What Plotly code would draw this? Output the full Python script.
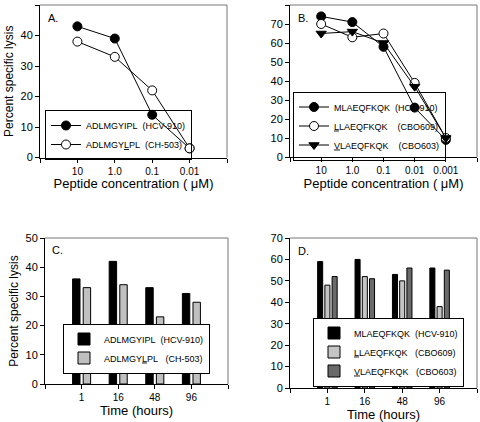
import plotly.graph_objects as go

# ---------------- data ----------------
conc_A = ["10", "1.0", "0.1", "0.01"]
hcv910_A = [43, 39, 14, 3]
ch503_A = [38, 33, 22, 3]

conc_B = ["10", "1.0", "0.1", "0.01", "0.001"]
hcv910_B = [74, 71, 58, 26, 9]
cbo609_B = [70, 63, 65, 39, 10]
cbo603_B = [65, 66, 60, 37, 10]

time_C = ["1", "16", "48", "96"]
hcv910_C = [36, 42, 33, 31]
ch503_C = [33, 34, 23, 28]

time_D = ["1", "16", "48", "96"]
hcv910_D = [59, 60, 53, 56]
cbo609_D = [48, 52, 50, 38]
cbo603_D = [52, 51, 56, 55]

NB = "\u00a0"
name_A1 = "ADLMGYIPL" + NB * 2 + "(HCV-910)"
name_A2 = "ADLMGY<u>L</u>PL" + NB * 2 + "(CH-503)"
name_B1 = "MLAEQFKQK" + NB * 2 + "(HCV-910)"
name_B2 = "<u>L</u>LAEQFKQK" + NB * 4 + "(CBO609)"
name_B3 = "<u>V</u>LAEQFKQK" + NB * 4 + "(CBO603)"
name_C1 = "ADLMGYIPL" + NB * 2 + "(HCV-910)"
name_C2 = "ADLMGY<u>L</u>PL" + NB * 3 + "(CH-503)"
name_D1 = "MLAEQFKQK" + NB * 2 + "(HCV-910)"
name_D2 = "<u>L</u>LAEQFKQK" + NB * 3 + "(CBO609)"
name_D3 = "<u>V</u>LAEQFKQK" + NB * 3 + "(CBO603)"

W, H = 480, 422
FONT = "Liberation Sans, Arial, sans-serif"


def dx(a, b):
    return [a / W, b / W]


def dy(top, bottom):
    return [1 - bottom / H, 1 - top / H]


def pos(labels):
    return list(range(1, len(labels) + 1))


fig = go.Figure()

# ---- Panel A ----
xa = pos(conc_A)
fig.add_trace(go.Scatter(x=xa, y=hcv910_A, name=name_A1, mode="lines+markers",
                         line=dict(color="black", width=1),
                         marker=dict(symbol="circle", size=9, color="black",
                                     line=dict(color="black", width=1)),
                         xaxis="x", yaxis="y", legend="legend"))
fig.add_trace(go.Scatter(x=xa, y=ch503_A, name=name_A2, mode="lines+markers",
                         line=dict(color="black", width=1),
                         marker=dict(symbol="circle", size=9, color="white",
                                     line=dict(color="black", width=1)),
                         xaxis="x", yaxis="y", legend="legend"))

# ---- Panel B ----
xb = pos(conc_B)
fig.add_trace(go.Scatter(x=xb, y=hcv910_B, name=name_B1, mode="lines+markers",
                         line=dict(color="black", width=1),
                         marker=dict(symbol="circle", size=9, color="black",
                                     line=dict(color="black", width=1)),
                         xaxis="x2", yaxis="y2", legend="legend2"))
fig.add_trace(go.Scatter(x=xb, y=cbo609_B, name=name_B2, mode="lines+markers",
                         line=dict(color="black", width=1),
                         marker=dict(symbol="circle", size=9, color="white",
                                     line=dict(color="black", width=1)),
                         xaxis="x2", yaxis="y2", legend="legend2"))
fig.add_trace(go.Scatter(x=xb, y=cbo603_B, name=name_B3, mode="lines+markers",
                         line=dict(color="black", width=1),
                         marker=dict(symbol="triangle-down", size=9, color="black",
                                     line=dict(color="black", width=1)),
                         xaxis="x2", yaxis="y2", legend="legend2"))

# ---- Panel C ----
xc = pos(time_C)
fig.add_trace(go.Bar(x=xc, y=hcv910_C, name=name_C1, marker=dict(color="black", line=dict(color="black", width=1)),
                     xaxis="x3", yaxis="y3", legend="legend3", offsetgroup="c1"))
fig.add_trace(go.Bar(x=xc, y=ch503_C, name=name_C2, marker=dict(color="#c0c0c0", line=dict(color="black", width=1)),
                     xaxis="x3", yaxis="y3", legend="legend3", offsetgroup="c2"))

# ---- Panel D ----
xd = pos(time_D)
fig.add_trace(go.Bar(x=xd, y=hcv910_D, name=name_D1, marker=dict(color="black", line=dict(color="black", width=1)),
                     xaxis="x4", yaxis="y4", legend="legend4", offsetgroup="d1"))
fig.add_trace(go.Bar(x=xd, y=cbo609_D, name=name_D2, marker=dict(color="#c4c4c4", line=dict(color="black", width=1)),
                     xaxis="x4", yaxis="y4", legend="legend4", offsetgroup="d2"))
fig.add_trace(go.Bar(x=xd, y=cbo603_D, name=name_D3, marker=dict(color="#6a6a6a", line=dict(color="black", width=1)),
                     xaxis="x4", yaxis="y4", legend="legend4", offsetgroup="d3"))

xtickfont = dict(family=FONT, size=10, color="black")
ytickfont = dict(family=FONT, size=11, color="black")
xtitlefont = dict(family=FONT, size=13, color="black")
ytitlefont = dict(family=FONT, size=12, color="black")


def xaxis(domain, anchor, labels, title):
    n = len(labels)
    return dict(domain=domain, anchor=anchor, range=[0, n + 1],
                tickvals=list(range(0, n + 2)), ticktext=[""] + labels + [""],
                ticks="outside", ticklen=4, tickcolor="black", tickwidth=1,
                showline=True, linecolor="black", linewidth=1,
                showgrid=False, zeroline=False, tickfont=xtickfont,
                title=dict(text=title, font=xtitlefont, standoff=3),
                automargin=False, fixedrange=True)


def yaxis(domain, anchor, top, title):
    return dict(domain=domain, anchor=anchor, range=[0, top], dtick=10,
                ticks="outside", ticklen=4, tickcolor="black", tickwidth=1,
                showline=True, linecolor="black", linewidth=1,
                showgrid=False, zeroline=False, tickfont=ytickfont,
                title=dict(text=title, font=ytitlefont, standoff=4),
                automargin=False, fixedrange=True)


fig.update_layout(
    width=W, height=H,
    margin=dict(l=0, r=0, t=0, b=0, autoexpand=False),
    paper_bgcolor="white", plot_bgcolor="white",
    font=dict(family=FONT, color="black"),
    bargap=0.42, bargroupgap=0.3, barmode="group",
    xaxis=xaxis(dx(40, 227), "y", conc_A, "Peptide concentration ( μM)"),
    yaxis=yaxis(dy(5, 157.5), "x", 50, "Percent specific lysis"),
    xaxis2=xaxis(dx(290, 477), "y2", conc_B, "Peptide concentration ( μM)"),
    yaxis2=yaxis(dy(5, 157), "x2", 80, ""),
    xaxis3=xaxis(dx(45, 228), "y3", time_C, "Time (hours)"),
    yaxis3=yaxis(dy(238, 384), "x3", 50, "Percent specific lysis"),
    xaxis4=xaxis(dx(290, 477), "y4", time_D, "Time (hours)"),
    yaxis4=yaxis(dy(238, 388), "x4", 70, ""),
)

legend_common = dict(font=dict(family=FONT, size=9, color="black"),
                     bordercolor="black", borderwidth=1, xanchor="left",
                     tracegroupgap=0, itemwidth=30, traceorder="normal")
fig.update_layout(
    legend=dict(x=45 / W, y=1 - 135 / H, yanchor="middle", bgcolor="rgba(0,0,0,0)", **legend_common),
    legend2=dict(x=293 / W, y=1 - 126 / H, yanchor="middle", bgcolor="rgba(0,0,0,0)", **legend_common),
    legend3=dict(x=63 / W, y=1 - 348.5 / H, yanchor="middle", bgcolor="white", **legend_common),
    legend4=dict(x=313 / W, y=1 - 352 / H, yanchor="middle", bgcolor="white", **legend_common),
)

# grey frame on top and right of each panel
for ax in ["", "2", "3", "4"]:
    fig.add_shape(type="line", xref=f"x{ax} domain", yref=f"y{ax} domain",
                  x0=0, x1=1, y0=1, y1=1, line=dict(color="#777", width=1))
    fig.add_shape(type="line", xref=f"x{ax} domain", yref=f"y{ax} domain",
                  x0=1, x1=1, y0=0, y1=1, line=dict(color="#777", width=1))

for ax, lab in [("", "A."), ("2", "B."), ("3", "C."), ("4", "D.")]:
    fig.add_annotation(text=lab, xref=f"x{ax} domain", yref=f"y{ax} domain",
                       x=0.03, y=0.97, xanchor="left", yanchor="top", showarrow=False,
                       font=dict(family=FONT, size=11, color="black"))

fig.write_html("out.html", config={"displayModeBar": False},
               post_script="document.body.style.margin='0';document.body.style.overflow='hidden';")
